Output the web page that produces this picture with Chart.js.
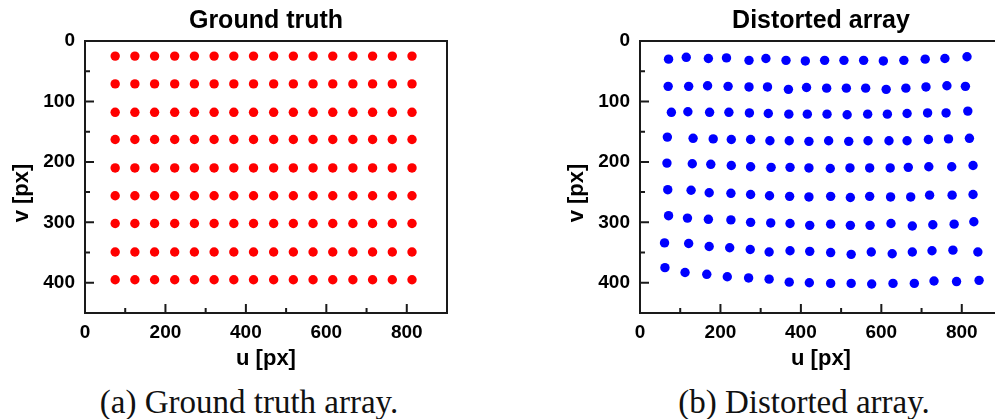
<!DOCTYPE html>
<html>
<head>
<meta charset="utf-8">
<script src="https://cdn.jsdelivr.net/npm/chart.js@4.4.0/dist/chart.umd.min.js"></script>
<style>
  html, body { margin: 0; padding: 0; background: #fff; overflow: hidden; width: 995px; height: 419px; }
  .panel { position: absolute; top: 0; }
  .caption { position: absolute; top: 386px; line-height: 33px; font-family: 'Liberation Serif', 'Times New Roman', serif; font-size: 33px; white-space: nowrap; transform: translateX(-50%); color: #111; }
</style>
</head>
<body>
<canvas id="chartA" class="panel" width="497" height="380" style="left:0px"></canvas>
<canvas id="chartB" class="panel" width="497" height="380" style="left:555px"></canvas>
<div class="caption" style="left:249px">(a) Ground truth array.</div>
<div class="caption" style="left:804px">(b) Distorted array.</div>
<script>
// ground truth grid (u per column, v per row)
var groundU = [75, 124, 173, 223, 272, 321, 370, 419, 469, 518, 567, 616, 666, 715, 764, 813];
var groundV = [25, 71, 118, 163, 210, 256, 302, 349, 395];

// distorted array, one line per row of dots
var distortedU = [
  71, 115, 170, 215, 271, 313, 363, 411, 459, 507, 556, 605, 656, 709, 758, 813,
  70, 121, 168, 219, 271, 317, 369, 414, 464, 513, 561, 612, 661, 711, 763, 809,
  78, 119, 173, 221, 272, 319, 370, 416, 465, 515, 566, 615, 664, 715, 761, 815,
  68, 132, 182, 227, 275, 323, 371, 420, 469, 519, 567, 619, 664, 717, 767, 819,
  67, 130, 176, 227, 275, 326, 373, 420, 473, 522, 571, 622, 667, 718, 775, 828,
  69, 127, 172, 226, 275, 322, 372, 420, 474, 523, 571, 623, 673, 720, 776, 828,
  71, 118, 170, 226, 275, 325, 373, 422, 474, 523, 572, 624, 677, 728, 781, 830,
  61, 121, 172, 223, 274, 321, 373, 422, 474, 525, 575, 627, 677, 726, 778, 840,
  62, 112, 166, 217, 270, 321, 371, 421, 474, 525, 576, 629, 682, 731, 787, 843
];
var distortedV = [
  30, 27, 29, 28, 32, 29, 32, 33, 32, 32, 32, 33, 32, 30, 29, 26,
  75, 75, 74, 75, 76, 76, 80, 77, 78, 78, 78, 80, 78, 76, 74, 75,
  118, 117, 118, 118, 119, 120, 121, 121, 121, 122, 121, 121, 120, 119, 119, 116,
  159, 161, 162, 163, 163, 165, 165, 166, 165, 166, 165, 165, 165, 163, 162, 161,
  202, 203, 204, 206, 208, 209, 209, 210, 211, 210, 210, 210, 209, 208, 208, 206,
  246, 247, 251, 252, 254, 256, 257, 258, 257, 259, 257, 258, 258, 255, 255, 254,
  289, 293, 295, 296, 300, 301, 302, 305, 303, 305, 305, 302, 306, 304, 303, 299,
  334, 335, 340, 342, 345, 349, 347, 348, 350, 353, 349, 352, 349, 347, 346, 349,
  375, 383, 386, 390, 392, 394, 399, 400, 401, 401, 402, 401, 401, 397, 398, 396
];

var xTickLabels = [0, 200, 400, 600, 800];
var yTickLabels = [0, 100, 200, 300, 400];
var xMinorTicks = [100, 300, 500, 700];
var yMinorTicks = [50, 150, 250, 350, 450];

var groundPoints = [];
groundV.forEach(function (v) {
  groundU.forEach(function (u) { groundPoints.push({ x: u, y: v }); });
});
var distortedPoints = distortedU.map(function (u, i) { return { x: u, y: distortedV[i] }; });

var sans = "'Liberation Sans', Arial, sans-serif";

// box around the plot, inward ticks and the axis titles
var frameAndTicks = {
  id: 'frameAndTicks',
  afterDraw: function (chart) {
    var ctx = chart.ctx, a = chart.chartArea, x = chart.scales.x, y = chart.scales.y;
    ctx.save();
    ctx.strokeStyle = '#1a1a1a';
    ctx.lineWidth = 2;
    ctx.beginPath();
    xTickLabels.forEach(function (v) {
      var px = x.getPixelForValue(v);
      ctx.moveTo(px, a.bottom); ctx.lineTo(px, a.bottom - 9);
    });
    xMinorTicks.forEach(function (v) {
      var px = x.getPixelForValue(v);
      ctx.moveTo(px, a.bottom); ctx.lineTo(px, a.bottom - 5);
    });
    yTickLabels.forEach(function (v) {
      var py = y.getPixelForValue(v);
      ctx.moveTo(a.left, py); ctx.lineTo(a.left + 9, py);
    });
    yMinorTicks.forEach(function (v) {
      var py = y.getPixelForValue(v);
      ctx.moveTo(a.left, py); ctx.lineTo(a.left + 5, py);
    });
    ctx.stroke();
    ctx.strokeRect(a.left, a.top, a.right - a.left, a.bottom - a.top);

    ctx.fillStyle = '#000';
    ctx.font = 'bold 22px ' + sans;
    ctx.textAlign = 'center';
    ctx.textBaseline = 'middle';
    ctx.fillText('u [px]', (a.left + a.right) / 2, 359);
    ctx.translate(22, (a.top + a.bottom) / 2 + 16);
    ctx.rotate(-Math.PI / 2);
    ctx.fillText('v [px]', 0, 0);
    ctx.restore();
  }
};

function makeChart(id, title, points, color) {
  return new Chart(document.getElementById(id), {
    type: 'scatter',
    data: {
      datasets: [{
        data: points,
        backgroundColor: color,
        borderWidth: 0,
        pointRadius: 4.7,
        pointHoverRadius: 4.7
      }]
    },
    options: {
      responsive: false,
      animation: false,
      layout: { padding: { left: 0, right: 50, top: 0, bottom: 0 } },
      plugins: {
        legend: { display: false },
        tooltip: { enabled: false },
        title: {
          display: true,
          text: title,
          fullSize: false,
          color: '#000',
          font: { family: sans, size: 25, weight: 'bold' },
          padding: { top: 6, bottom: 5 }
        }
      },
      scales: {
        x: {
          type: 'linear',
          min: 0,
          max: 900,
          grid: { display: false, drawTicks: false },
          border: { display: false },
          afterBuildTicks: function (s) { s.ticks = xTickLabels.map(function (v) { return { value: v }; }); },
          ticks: {
            padding: 8,
            maxRotation: 0,
            autoSkip: false,
            color: '#000',
            font: { family: sans, size: 19, weight: 'bold' }
          },
          afterFit: function (s) { s.height = 67; }
        },
        y: {
          type: 'linear',
          reverse: true,
          min: 0,
          max: 450,
          grid: { display: false, drawTicks: false },
          border: { display: false },
          afterBuildTicks: function (s) { s.ticks = yTickLabels.map(function (v) { return { value: v }; }); },
          ticks: {
            padding: 10,
            autoSkip: false,
            color: '#000',
            font: { family: sans, size: 19, weight: 'bold' }
          },
          afterFit: function (s) { s.width = 85; }
        }
      }
    },
    plugins: [frameAndTicks]
  });
}

makeChart('chartA', 'Ground truth', groundPoints, '#ff0000');
makeChart('chartB', 'Distorted array', distortedPoints, '#0000ff');
</script>
</body>
</html>
